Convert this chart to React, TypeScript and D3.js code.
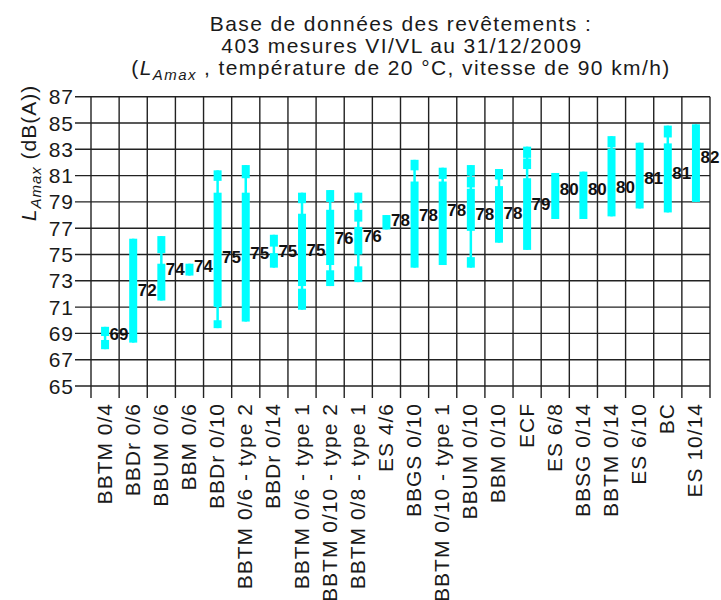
import React from "react";
import * as d3 from "d3";

const categories = [
  "BBTM 0/4", "BBDr 0/6", "BBUM 0/6", "BBM 0/6", "BBDr 0/10", "BBTM 0/6 - type 2",
  "BBDr 0/14", "BBTM 0/6 - type 1", "BBTM 0/10 - type 2", "BBTM 0/8 - type 1", "ES 4/6",
  "BBGS 0/10", "BBTM 0/10 - type 1", "BBUM 0/10", "BBM 0/10", "ECF", "ES 6/8",
  "BBSG 0/14", "BBTM 0/14", "ES 6/10", "BC", "ES 10/14",
];

// thin line extent (min / max)
const whiskerLow = [67.8, 68.3, 71.5, 73.4, 69.4, 69.9, 74.0, 70.8, 72.6, 72.9, 76.9, 74.0, 74.2, 74.0, 75.9, 75.35, 77.7, 77.7, 77.9, 78.5, 78.2, 79.0];
const whiskerHigh = [69.5, 76.2, 76.4, 74.3, 81.4, 81.8, 76.5, 79.7, 79.9, 79.7, 78.0, 82.2, 81.6, 81.8, 81.5, 83.2, 81.2, 81.3, 84.0, 83.5, 84.8, 84.9];

// thick segments (boxes and square markers), [low, high]
const segments: number[][][] = [
  [[68.8, 69.5], [67.8, 68.5]],
  [[68.3, 76.2]],
  [[75.1, 76.4], [71.5, 74.3]],
  [[73.4, 74.3]],
  [[80.6, 81.4], [71.0, 79.7], [69.4, 70.0]],
  [[80.8, 81.8], [69.9, 79.7]],
  [[75.6, 76.5], [74.0, 75.1]],
  [[78.9, 79.7], [72.6, 78.1], [70.8, 72.4]],
  [[79.0, 79.9], [74.2, 78.4], [72.6, 73.8]],
  [[78.9, 79.7], [77.5, 78.4], [75.0, 77.1], [72.9, 74.1]],
  [[76.9, 78.0]],
  [[81.4, 82.2], [74.0, 80.55]],
  [[80.75, 81.6], [74.2, 80.55]],
  [[81.0, 81.8], [80.1, 80.9], [76.8, 80.0], [74.0, 74.8]],
  [[80.7, 81.5], [75.9, 80.2]],
  [[82.35, 83.2], [81.5, 82.3], [75.35, 80.8]],
  [[77.7, 81.2]],
  [[77.7, 81.3]],
  [[83.15, 84.0], [77.9, 83.05]],
  [[78.5, 83.5]],
  [[83.9, 84.8], [78.2, 83.45]],
  [[79.0, 84.9]],
];

// value label position and text
const labelValue = [69.0, 72.3, 73.9, 74.1, 74.85, 75.1, 75.3, 75.35, 76.25, 76.4, 77.6, 78.0, 78.4, 78.1, 78.15, 78.85, 80.0, 80.0, 80.15, 80.85, 81.2, 82.4];
const labelText = ["69", "72", "74", "74", "75", "75", "75", "75", "76", "76", "78", "78", "78", "78", "78", "79", "80", "80", "80", "81", "81", "82"];

const yTicks = [65, 67, 69, 71, 73, 75, 77, 79, 81, 83, 85, 87];

const FONT = "'Liberation Sans', Arial, Helvetica, sans-serif";

export default function App() {
  const W = 721, H = 600;
  const left = 91, right = 710, top = 96.7, bottom = 386;

  const x = d3.scaleBand<string>().domain(categories).range([left, right]).padding(0);
  const y = d3.scaleLinear().domain([65, 87]).range([bottom, top]);
  const bw = x.bandwidth();
  const boxW = 8;

  const gridColor = "#222";

  return (
    <svg width={W} height={H} style={{ position: "absolute", left: 0, top: 0, background: "#fff" }}>
      <rect x={0} y={0} width={W} height={H} fill="#fff" />
      {/* Title */}
      <g fontFamily={FONT} fontSize={21} fill="#1a1a1a" textAnchor="middle" letterSpacing={1.4}>
        <text x={401} y={30.5}>Base de données des revêtements :</text>
        <text x={402} y={53}>403 mesures VI/VL au 31/12/2009</text>
        <text x={401} y={75}>
          <tspan>(</tspan>
          <tspan fontStyle="italic">L</tspan>
          <tspan fontStyle="italic" fontSize={15} dy={5}>Amax</tspan>
          <tspan dy={-5}> , température de 20 °C, vitesse de 90 km/h)</tspan>
        </text>
      </g>

      {/* horizontal grid */}
      {yTicks.map((t) => (
        <line key={"h" + t} x1={75} x2={right} y1={y(t)} y2={y(t)} stroke={gridColor} strokeWidth={1.4} />
      ))}
      {/* vertical grid */}
      {d3.range(categories.length + 1).map((i) => {
        const xx = left + i * bw;
        return <line key={"v" + i} x1={xx} x2={xx} y1={top} y2={bottom + 12} stroke={gridColor} strokeWidth={1.4} />;
      })}

      {/* y tick labels */}
      <g fontFamily={FONT} fontSize={21} fill="#1a1a1a" textAnchor="end" letterSpacing={1}>
        {yTicks.map((t) => (
          <text key={"yt" + t} x={74} y={y(t)} dy="0.36em">{t}</text>
        ))}
      </g>

      {/* y axis label */}
      <text transform={`translate(36, 153) rotate(-90)`} fontFamily={FONT} fontSize={21} fill="#1a1a1a" textAnchor="middle" letterSpacing={1}>
        <tspan fontStyle="italic">L</tspan>
        <tspan fontStyle="italic" fontSize={15} dy={5}>Amax</tspan>
        <tspan dy={-5}> (dB(A))</tspan>
      </text>

      {/* glyphs */}
      {categories.map((c, i) => {
        const cx = (x(c) as number) + bw / 2;
        return (
          <g key={"g" + i}>
            <line x1={cx} x2={cx} y1={y(whiskerLow[i])} y2={y(whiskerHigh[i])} stroke="#00ffff" strokeWidth={2.5} />
            {segments[i].map((s, j) => (
              <rect key={j} x={cx - boxW / 2} width={boxW} y={y(s[1])} height={y(s[0]) - y(s[1])} fill="#00ffff" />
            ))}
          </g>
        );
      })}

      {/* value labels */}
      <g fontFamily={FONT} fontSize={17} fontWeight="bold" fill="#111">
        {categories.map((c, i) => {
          const cx = (x(c) as number) + bw / 2;
          return (
            <text key={"l" + i} x={cx + 4.5} y={y(labelValue[i])} dy="0.36em">{labelText[i]}</text>
          );
        })}
      </g>

      {/* x tick labels */}
      <g fontFamily={FONT} fontSize={21} fill="#1a1a1a" textAnchor="end" letterSpacing={1}>
        {categories.map((c) => {
          const cx = (x(c) as number) + bw / 2;
          return (
            <text key={"xl" + c} transform={`translate(${cx + 6.5}, 403) rotate(-90)`}>{c}</text>
          );
        })}
      </g>
    </svg>
  );
}
